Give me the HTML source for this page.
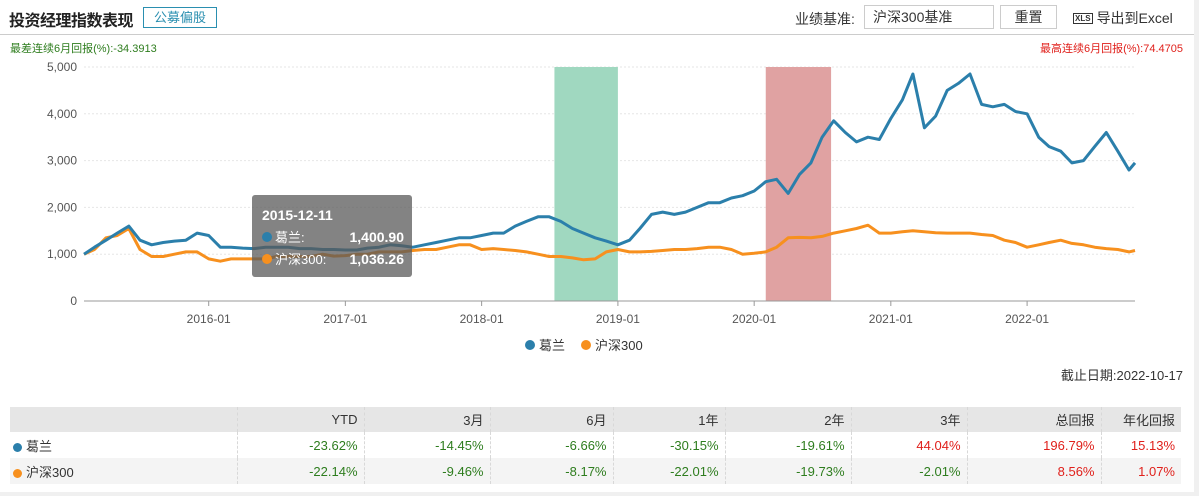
<!DOCTYPE html>
<html><head><meta charset="utf-8">
<style>
*{box-sizing:border-box;margin:0;padding:0}
body{width:1199px;height:496px;background:#f0f0f0;font-family:"Liberation Sans","Noto Sans CJK SC",sans-serif;overflow:hidden;position:relative}
#card{position:absolute;left:0;top:0;width:1194px;height:492px;background:#fff}
.abs{position:absolute}
table{border-collapse:collapse;position:absolute;left:10px;top:407px;width:1171px;font-size:13px}
td{height:26px;text-align:right;padding-right:6px;border-right:1px dashed #d8d8d8;color:#333}
tr.h td{background:#e6e6e6;height:25px}
tr.r2 td{background:#f4f4f4}
td.l{text-align:left;padding-left:3px}
.g{color:#2e7d1e}.rd{color:#e0201b}
.dot{display:inline-block;width:9px;height:9px;border-radius:50%;margin-right:4px;vertical-align:-1px}
</style></head><body>
<div id="card">
<div class="abs" style="left:9px;top:7px;font-size:16px;font-weight:bold;color:#222;letter-spacing:-0.5px">投资经理指数表现</div>
<div class="abs" style="left:143px;top:7px;width:74px;height:21px;border:1px solid #2a8fb0;color:#2a8fb0;font-size:13px;text-align:center;line-height:19px;background:#fff">公募偏股</div>
<div class="abs" style="left:795px;top:9px;font-size:14px;color:#333">业绩基准:</div>
<div class="abs" style="left:864px;top:5px;width:130px;height:24px;border:1px solid #ccc;font-size:14px;color:#333;padding-left:8px;line-height:22px">沪深300基准</div>
<div class="abs" style="left:1000px;top:5px;width:57px;height:24px;border:1px solid #ccc;font-size:14px;color:#333;text-align:center;line-height:22px">重置</div>
<div class="abs" style="left:1073px;top:8px;font-size:14px;color:#333"><span style="font-size:8px;font-weight:bold;border:1px solid #333;padding:0 1px;margin-right:4px;vertical-align:2px">XLS</span>导出到Excel</div>
<div class="abs" style="left:0;top:34px;width:1194px;height:1px;background:#ccc"></div>
<div class="abs g" style="left:10px;top:40px;font-size:11px">最差连续6月回报(%):-34.3913</div>
<div class="abs rd" style="right:11px;top:40px;font-size:11px">最高连续6月回报(%):74.4705</div>
<svg id="chart" class="abs" style="left:0;top:0" width="1194" height="400"></svg>
<div class="abs" style="right:11px;top:365px;font-size:13px;color:#333">截止日期:2022-10-17</div>
<table>
<tr class="h"><td style="width:227px"></td><td style="width:127px">YTD</td><td style="width:126px">3月</td><td style="width:123px">6月</td><td style="width:112px">1年</td><td style="width:126px">2年</td><td style="width:116px">3年</td><td style="width:134px">总回报</td><td style="width:80px;border-right:none">年化回报</td></tr>
<tr><td class="l"><span class="dot" style="background:#2b7fab"></span>葛兰</td><td class="g">-23.62%</td><td class="g">-14.45%</td><td class="g">-6.66%</td><td class="g">-30.15%</td><td class="g">-19.61%</td><td class="rd">44.04%</td><td class="rd">196.79%</td><td class="rd" style="border-right:none">15.13%</td></tr>
<tr class="r2"><td class="l"><span class="dot" style="background:#f7901e"></span>沪深300</td><td class="g">-22.14%</td><td class="g">-9.46%</td><td class="g">-8.17%</td><td class="g">-22.01%</td><td class="g">-19.73%</td><td class="g">-2.01%</td><td class="rd">8.56%</td><td class="rd" style="border-right:none">1.07%</td></tr>
</table>
</div>
<script>
const yTicks=[0,1000,2000,3000,4000,5000];
const xTicks=["2016-01","2017-01","2018-01","2019-01","2020-01","2021-01","2022-01"];
const bands=[["2018-07-15","2019-01-01","#a0d8c0"],["2020-02-01","2020-07-25","#e0a2a2"]];
const dates=[];for(let y=2015;y<=2022;y++)for(let m=1;m<=12;m++){if((y===2015&&m<2)||(y===2022&&m>10))continue;dates.push(y+"-"+String(m).padStart(2,"0"));}
dates.push("2022-10-17");
const gelan=[1000,1150,1300,1450,1600,1300,1200,1250,1280,1300,1450,1400,1150,1150,1130,1120,1150,1150,1150,1120,1120,1100,1100,1090,1090,1130,1150,1200,1180,1150,1200,1250,1300,1350,1350,1400,1450,1450,1600,1700,1800,1800,1700,1550,1450,1350,1280,1200,1300,1550,1850,1900,1850,1900,2000,2100,2100,2200,2250,2350,2550,2600,2300,2700,2950,3500,3850,3600,3400,3500,3450,3900,4300,4850,3700,3950,4500,4650,4850,4200,4150,4200,4050,4000,3500,3300,3200,2950,3000,3300,3600,3200,2800,2950];
const hs300=[1000,1100,1350,1400,1550,1100,950,950,1000,1050,1050,900,850,900,900,900,900,950,950,950,950,1000,960,970,1000,1000,1050,1050,1050,1080,1100,1100,1150,1200,1200,1100,1120,1100,1080,1050,1000,950,950,920,880,900,1050,1100,1050,1050,1060,1080,1100,1100,1120,1150,1150,1100,1000,1020,1050,1150,1350,1360,1350,1380,1450,1500,1550,1620,1450,1450,1480,1500,1480,1460,1450,1450,1450,1420,1400,1300,1250,1150,1200,1250,1300,1230,1200,1150,1120,1100,1050,1080];
const NS="http://www.w3.org/2000/svg",svg=document.getElementById("chart");
const L=84,R=1135,T=67,B=301,t0=Date.UTC(2015,1,1),t1=Date.UTC(2022,9,17);
function tx(s){const p=s.split("-").map(Number);return Date.UTC(p[0],p[1]-1,p[2]||1);}
function xs(s){return L+(tx(s)-t0)/(t1-t0)*(R-L);}
function ys(v){return B-v/5000*(B-T);}
function mk(tag,a,txt){const e=document.createElementNS(NS,tag);for(const k in a)e.setAttribute(k,a[k]);if(txt!=null)e.textContent=txt;svg.appendChild(e);return e;}
yTicks.forEach(v=>{const g=mk("line",{x1:L,x2:R,y1:ys(v),y2:ys(v),stroke:"#e6e6e6","stroke-dasharray":"2,2"});
const t=mk("text",{x:L-7,y:ys(v)+4,"text-anchor":"end","font-size":12,fill:"#555"},v.toLocaleString("en-US"));});
bands.forEach(b=>{const r=mk("rect",{x:xs(b[0]),y:T,width:xs(b[1])-xs(b[0]),height:B-T,fill:b[2]});});
const ax=mk("line",{x1:L,x2:R,y1:B,y2:B,stroke:"#999"});
xTicks.forEach(d=>{const x=xs(d);mk("line",{x1:x,x2:x,y1:B,y2:B+5,stroke:"#999"});const t=mk("text",{x:x,y:B+22,"text-anchor":"middle","font-size":12,fill:"#555"},d);});
function line(vals,col,name){const n=Math.min(vals.length,dates.length);let d="";for(let i=0;i<n;i++)d+=(i?"L":"M")+xs(dates[i]).toFixed(1)+","+ys(vals[i]).toFixed(1);const p=mk("path",{d:d,fill:"none",stroke:col,"stroke-width":3,"stroke-linejoin":"round"});}
line(hs300,"#f7901e","hs300-line");line(gelan,"#2b7fab","gelan-line");
const tg=mk("rect",{x:252,y:195,width:160,height:82,rx:3,fill:"rgba(90,90,90,0.75)"});
mk("text",{x:262,y:220,"font-size":14,"font-weight":"bold",fill:"#fff"},"2015-12-11");
mk("circle",{cx:267,cy:237,r:5,fill:"#2b7fab"});mk("text",{x:275,y:242,"font-size":13,fill:"#fff"},"葛兰:");mk("text",{x:404,y:242,"font-size":14,"font-weight":"bold",fill:"#fff","text-anchor":"end"},"1,400.90");
mk("circle",{cx:267,cy:259,r:5,fill:"#f7901e"});mk("text",{x:275,y:264,"font-size":13,fill:"#fff"},"沪深300:");mk("text",{x:404,y:264,"font-size":14,"font-weight":"bold",fill:"#fff","text-anchor":"end"},"1,036.26");
const l1=mk("circle",{cx:530,cy:345,r:5,fill:"#2b7fab"});
mk("text",{x:539,y:350,"font-size":13,fill:"#333"},"葛兰");
const l2=mk("circle",{cx:586,cy:345,r:5,fill:"#f7901e"});
mk("text",{x:595,y:350,"font-size":13,fill:"#333"},"沪深300");
</script>
</body></html>
